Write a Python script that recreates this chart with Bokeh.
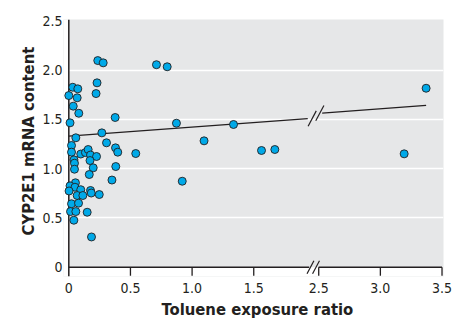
import numpy as np
from bokeh.plotting import figure
from bokeh.models import FixedTicker, BoxAnnotation, Title
from bokeh.embed import file_html
from bokeh.resources import INLINE

# ---------------- data ----------------
exposure = [0.235, 0.279, 0.229, 0.221, 0.032, 0.073, 0.000, 0.068, 0.036, 0.081,
            0.010, 0.376, 0.268, 0.057, 0.306, 0.022, 0.379, 0.397, 0.543, 0.022,
            0.097, 0.135, 0.157, 0.176, 0.225, 0.172, 0.042, 0.046, 0.198, 0.381,
            0.046, 0.166, 0.350, 0.054, 0.010, 0.050, 0.002, 0.097, 0.176, 0.182,
            0.247, 0.068, 0.114, 0.022, 0.079, 0.014, 0.057, 0.149, 0.041, 0.184,
            0.711, 0.798, 0.873, 1.336, 1.097, 0.920, 1.563, 1.671, 3.193, 3.371]
mrna = [2.098, 2.075, 1.872, 1.763, 1.827, 1.811, 1.743, 1.720, 1.635, 1.563,
        1.466, 1.520, 1.364, 1.314, 1.263, 1.236, 1.212, 1.168, 1.154, 1.168,
        1.149, 1.164, 1.195, 1.139, 1.124, 1.083, 1.090, 1.056, 1.009, 1.022,
        0.995, 0.941, 0.885, 0.857, 0.826, 0.812, 0.774, 0.787, 0.779, 0.753,
        0.738, 0.728, 0.728, 0.644, 0.650, 0.565, 0.565, 0.558, 0.477, 0.307,
        2.056, 2.035, 1.462, 1.449, 1.283, 0.873, 1.185, 1.195, 1.151, 1.817]

x_ticks = [0, 0.5, 1.0, 1.5, 2.5, 3.0, 3.5]
x_tick_labels = ["0", "0.5", "1.0", "1.5", "2.5", "3.0", "3.5"]
y_ticks = [0, 0.5, 1.0, 1.5, 2.0, 2.5]
y_tick_labels = ["0", "0.5", "1.0", "1.5", "2.0", "2.5"]
y_grid = [0.5, 1.0, 1.5, 2.0]

fit_intercept = 1.33
fit_slope = 0.0926
fit_x_parts = [(0.0, 1.938), (2.528, 3.371)]

# axis break: values from BREAK_FROM on are shifted left by BREAK_SHIFT
BREAK_FROM = 2.0
BREAK_SHIFT = 0.473

x_title = "Toluene exposure ratio"
y_title = "CYP2E1 mRNA content"

# ---------------- style ----------------
INK = "#231F20"
GREY = "#E6E7E8"
DOT = "#00A9E8"
FONT = "DejaVu Sans Condensed"


def disp(x):
    x = np.asarray(x, dtype=float)
    return np.where(x >= BREAK_FROM, x - BREAK_SHIFT, x)


X0, X1 = -0.043, 3.039
Y0, Y1 = -0.0944, 2.515

p = figure(width=459, height=320, x_range=(X0, X1), y_range=(Y0, Y1),
           output_backend="svg", toolbar_location=None,
           min_border_left=63, min_border_right=16, min_border_top=19,
           min_border_bottom=44)
p.background_fill_color = GREY
p.border_fill_color = "white"
p.outline_line_color = None

# grid
p.xgrid.visible = False
p.ygrid.ticker = FixedTicker(ticks=y_grid)
p.ygrid.grid_line_color = "white"
p.ygrid.grid_line_width = 1.5

# white outside the data area (below y=0, left of x=0)
p.add_layout(BoxAnnotation(top=0, fill_color="white", fill_alpha=1,
                           line_color=None, level="underlay"))
p.add_layout(BoxAnnotation(right=0, fill_color="white", fill_alpha=1,
                           line_color=None, level="underlay"))

# axes: labels only
xt_disp = [float(v) for v in disp(x_ticks)]
p.xaxis.ticker = FixedTicker(ticks=xt_disp)
p.xaxis.major_label_overrides = {t: l for t, l in zip(xt_disp, x_tick_labels)}
p.yaxis.ticker = FixedTicker(ticks=y_ticks)
p.yaxis.major_label_overrides = {t: l for t, l in zip(y_ticks, y_tick_labels)}
for ax in (p.xaxis[0], p.yaxis[0]):
    ax.axis_line_color = None
    ax.major_tick_line_color = None
    ax.minor_tick_line_color = None
    ax.major_tick_out = 0
    ax.major_tick_in = 0
    ax.major_label_text_font = FONT
    ax.major_label_text_font_size = "14px"
    ax.major_label_text_color = INK
p.xaxis.major_label_standoff = 6
p.yaxis.major_label_standoff = 1

# axis titles
p.add_layout(Title(text=x_title, align="left", offset=98, standoff=4,
                   text_font=FONT, text_font_style="bold",
                   text_font_size="16.5px", text_color=INK), "below")
p.add_layout(Title(text=y_title, align="left", offset=41, standoff=3,
                   text_font=FONT, text_font_style="bold",
                   text_font_size="16.5px", text_color=INK), "left")

# axis lines, ticks, break marks
tick_len = 0.086
xd_last = float(disp([x_ticks[-1]])[0])
xd_after = float(disp([x_ticks[4]])[0])
gap_lo = 1.95
p.segment(x0=[0, 0, xd_after], y0=[Y0, 0, 0], x1=[0, gap_lo, xd_last], y1=[Y1, 0, 0],
          line_color=INK, line_width=1.5)
tick_pos = [t for t in xt_disp if t > 0]
p.segment(x0=tick_pos, y0=[0] * len(tick_pos), x1=tick_pos,
          y1=[-tick_len] * len(tick_pos), line_color=INK, line_width=1.3)
sdx, sdy = 0.028, 0.066
bx = [1.96, 2.005]
p.segment(x0=[b - sdx for b in bx], y0=[-sdy] * 2, x1=[b + sdx for b in bx],
          y1=[sdy] * 2, line_color=INK, line_width=1.2)

# regression line with break
for (a, b) in fit_x_parts:
    xs = [a, b]
    ys = [fit_intercept + fit_slope * v for v in xs]
    p.line(disp(xs), ys, line_color=INK, line_width=1.3)
ya = fit_intercept + fit_slope * fit_x_parts[0][1]
yb = fit_intercept + fit_slope * fit_x_parts[1][0]
rbx = [1.974, 2.036]
rby = [ya, yb]
p.segment(x0=[b - 0.033 for b in rbx], y0=[c - 0.078 for c in rby],
          x1=[b + 0.033 for b in rbx], y1=[c + 0.078 for c in rby],
          line_color=INK, line_width=1.2)

# points
p.scatter(disp(exposure), mrna, size=8, fill_color=DOT, line_color=INK,
          line_width=0.9)

open("out.html", "w").write(file_html(p, INLINE))
